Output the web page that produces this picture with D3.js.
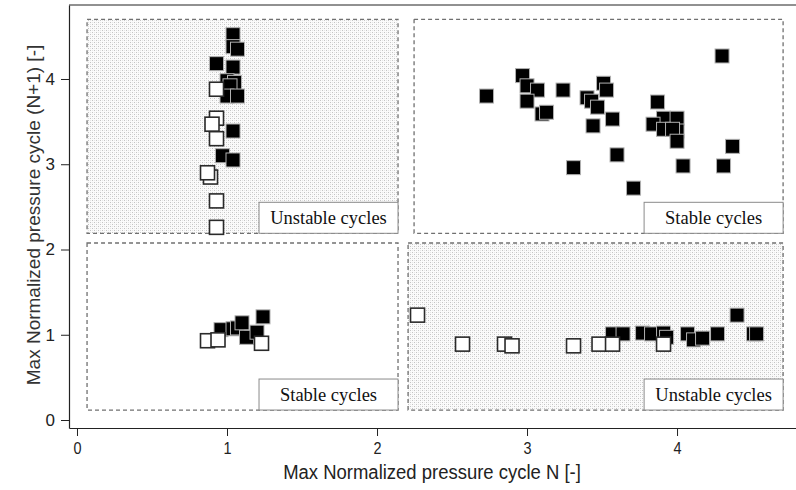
<!DOCTYPE html>
<html>
<head>
<meta charset="utf-8">
<script src="https://cdn.jsdelivr.net/npm/d3@7"></script>
<style>
  html, body { margin: 0; padding: 0; background: #fff; }
  svg { display: block; }
</style>
</head>
<body>
<svg id="chart" width="796" height="490"></svg>
<script>
// Tick values for both axes
const xTicks = [0, 1, 2, 3, 4];
const yTicks = [0, 1, 2, 3, 4];

// Cycle-to-cycle max normalized pressure: [cycle N, cycle N+1]
const filledPoints = [
  // upper-left cluster
  [1.04, 4.52], [1.04, 4.38], [1.07, 4.35], [0.93, 4.18], [1.04, 4.14],
  [1.00, 3.98], [1.05, 3.96], [1.02, 3.92], [1.00, 3.80], [1.07, 3.80],
  [1.04, 3.39], [0.97, 3.10], [1.04, 3.05],
  // upper-right cluster
  [4.30, 4.27], [2.97, 4.04], [2.73, 3.80], [3.00, 3.92], [3.07, 3.87],
  [3.00, 3.74], [3.24, 3.87], [3.10, 3.59], [3.13, 3.61], [3.51, 3.95],
  [3.53, 3.87], [3.40, 3.78], [3.43, 3.74], [3.47, 3.67], [3.57, 3.53],
  [3.44, 3.45], [3.60, 3.11], [3.31, 2.96], [3.71, 2.72], [3.87, 3.73],
  [3.91, 3.54], [4.00, 3.54], [3.84, 3.47], [3.91, 3.41], [4.00, 3.39],
  [3.97, 3.41], [4.00, 3.27], [4.04, 2.98], [4.31, 2.98], [4.37, 3.21],
  // lower-left cluster
  [0.96, 1.06], [1.04, 1.07], [1.07, 1.08], [1.10, 1.14], [1.13, 0.97],
  [1.20, 1.03], [1.24, 1.21],
  // lower-right cluster
  [3.57, 1.01], [3.64, 1.01], [3.77, 1.02], [3.83, 1.01], [3.91, 1.02],
  [3.93, 0.97], [4.07, 1.01], [4.11, 0.94], [4.17, 0.96], [4.27, 1.01],
  [4.40, 1.23], [4.51, 1.01], [4.53, 1.01]
];

const openPoints = [
  // upper-left cluster
  [0.93, 3.88], [0.93, 3.54], [0.90, 3.47], [0.93, 3.30], [0.89, 2.85],
  [0.87, 2.90], [0.93, 2.57], [0.93, 2.26],
  // lower-left cluster
  [0.87, 0.93], [0.94, 0.94], [1.23, 0.90],
  // lower-right cluster
  [2.27, 1.23], [2.57, 0.89], [2.85, 0.89], [2.90, 0.87], [3.31, 0.87],
  [3.48, 0.89], [3.57, 0.89], [3.91, 0.89]
];

// Stability zones in data units: [x0, x1, y0, y1], shading, caption
const zoneBounds = [
  [0.067, 2.14, 2.19, 4.70],
  [2.247, 4.707, 2.19, 4.70],
  [0.067, 2.14, 0.117, 2.076],
  [2.207, 4.707, 0.117, 2.076]
];
const zoneShaded = [true, false, false, true];
const zoneCaptions = ["Unstable cycles", "Stable cycles", "Stable cycles", "Unstable cycles"];

const xTitle = "Max Normalized pressure cycle N [-]";
const yTitle = "Max Normalized pressure cycle (N+1) [-]";

const svg = d3.select("#chart");
const plotLeft = 69, plotRight = 796, plotTop = 5, plotBottom = 428;

const x = d3.scaleLinear().domain([-0.0533, 4.793]).range([plotLeft, plotRight]);
const y = d3.scaleLinear().domain([-0.0938, 4.868]).range([plotBottom, plotTop]);

// Dotted fill for unstable zones
const defs = svg.append("defs");
const pat = defs.append("pattern")
  .attr("id", "dots").attr("patternUnits", "userSpaceOnUse")
  .attr("width", 4).attr("height", 4);
pat.append("rect").attr("width", 4).attr("height", 4).attr("fill", "#fbfbfb");
[[0, 0, "#c4c4c4"], [2, 2, "#c4c4c4"], [2, 0, "#e6e6e6"], [0, 2, "#e6e6e6"]].forEach(([px, py, c]) => {
  pat.append("rect").attr("x", px).attr("y", py).attr("width", 1).attr("height", 1).attr("fill", c);
});

// Zones
const zones = zoneBounds.map((b, i) => ({ b, shaded: zoneShaded[i], caption: zoneCaptions[i] }));
const zg = svg.append("g");
zg.selectAll("rect.zone").data(zones).join("rect")
  .attr("class", "zone")
  .attr("x", d => x(d.b[0]))
  .attr("y", d => y(d.b[3]))
  .attr("width", d => x(d.b[1]) - x(d.b[0]))
  .attr("height", d => y(d.b[2]) - y(d.b[3]))
  .attr("fill", d => d.shaded ? "url(#dots)" : "#fff")
  .attr("stroke", "#707070")
  .attr("stroke-width", 1.3)
  .attr("stroke-dasharray", "4,3");

// Captions in the lower-right corner of each zone
const capW = 139, capH = 31;
const cg = zg.selectAll("g.cap").data(zones).join("g").attr("class", "cap")
  .attr("transform", d => `translate(${x(d.b[1]) - capW},${y(d.b[2]) - capH})`);
cg.append("rect")
  .attr("width", capW).attr("height", capH)
  .attr("fill", "#fff").attr("stroke", "#8a8a8a").attr("stroke-width", 1);
cg.append("text")
  .attr("x", capW / 2).attr("y", capH / 2 + 6)
  .attr("text-anchor", "middle")
  .attr("font-family", "'Liberation Serif', 'Times New Roman', serif")
  .attr("font-size", 18.5)
  .attr("fill", "#111")
  .text(d => d.caption);

// Markers
const S = 14;
svg.append("g").selectAll("rect").data(filledPoints).join("rect")
  .attr("x", d => x(d[0]) - S / 2).attr("y", d => y(d[1]) - S / 2)
  .attr("width", S).attr("height", S)
  .attr("fill", "#000").attr("stroke", "#b0b0b0").attr("stroke-width", 1);
svg.append("g").selectAll("rect").data(openPoints).join("rect")
  .attr("x", d => x(d[0]) - S / 2).attr("y", d => y(d[1]) - S / 2)
  .attr("width", S).attr("height", S)
  .attr("fill", "#fff").attr("stroke", "#2a2a2a").attr("stroke-width", 1.6);

// Frame top line
svg.append("line").attr("x1", plotLeft).attr("x2", plotRight).attr("y1", plotTop).attr("y2", plotTop)
  .attr("stroke", "#222").attr("stroke-width", 1);

const tickFont = "'Liberation Sans', Arial, sans-serif";

// Axes
const xAxis = svg.append("g").attr("transform", `translate(0,${plotBottom})`)
  .call(d3.axisBottom(x).tickValues(xTicks).tickFormat(d3.format("d")).tickSize(8).tickSizeOuter(0).tickPadding(6));
const yAxis = svg.append("g").attr("transform", `translate(${plotLeft},0)`)
  .call(d3.axisLeft(y).tickValues(yTicks).tickFormat(d3.format("d")).tickSize(8).tickSizeOuter(0).tickPadding(6));
[xAxis, yAxis].forEach(a => {
  a.select(".domain").attr("stroke", "#222").attr("stroke-width", 1.2);
  a.selectAll(".tick line").attr("stroke", "#222");
  a.selectAll(".tick text").attr("font-family", tickFont).attr("font-size", 17).attr("fill", "#222");
});
// condensed look for the x tick labels
xAxis.selectAll(".tick text").each(function () {
  const t = d3.select(this);
  const ty = +t.attr("y");
  t.attr("y", null).attr("transform", `translate(0,${ty}) scale(0.85,1)`);
});

// Axis titles
svg.append("text")
  .attr("transform", "translate(432,479) scale(0.88,1)")
  .attr("text-anchor", "middle")
  .attr("font-family", tickFont)
  .attr("font-size", 21)
  .attr("fill", "#222")
  .text(xTitle);
svg.append("text")
  .attr("transform", `translate(40,${215}) rotate(-90)`)
  .attr("text-anchor", "middle")
  .attr("font-family", "'Liberation Sans', Arial, sans-serif")
  .attr("font-size", 19)
  .attr("fill", "#333")
  .text(yTitle);
</script>
</body>
</html>
